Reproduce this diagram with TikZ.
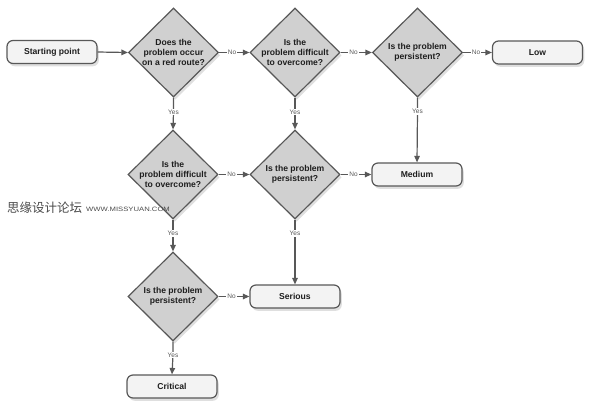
\documentclass[tikz,border=0pt]{standalone}
\usepackage{fontspec}
\setmainfont{Liberation Sans}
\newfontfamily\cjkfont{Noto Sans CJK SC}
\usetikzlibrary{shapes.geometric,arrows.meta,shadows}
\definecolor{linegray}{HTML}{585858}
\definecolor{diafill}{HTML}{D0D0D0}
\definecolor{boxfill}{HTML}{F3F3F3}
\definecolor{txt}{HTML}{1E1E1E}
\definecolor{wmgray}{HTML}{4A4A4A}
\begin{document}
\begin{tikzpicture}[x=1pt,y=-1pt,
  shad/.style={drop shadow={opacity=0.25, shadow xshift=1.8pt, shadow yshift=-2.8pt}},
  dia/.style={diamond, draw=linegray, line width=1.2pt, fill=diafill, minimum width=90pt, minimum height=89pt, inner sep=0pt, shad},
  qtext/.style={align=center, font=\fontsize{8.6}{10.2}\selectfont\bfseries, text=txt, inner sep=0pt},
  outbox/.style={rounded corners=6pt, draw=linegray, line width=1.2pt, fill=boxfill, minimum width=90pt, minimum height=23pt, inner sep=0pt, font=\fontsize{8.6}{10.2}\selectfont\bfseries, text=txt, shad},
  conn/.style={draw=linegray, line width=1.2pt, -{Triangle[length=6.5pt,width=5.5pt]}},
  lbl/.style={fill=white, inner sep=1pt, font=\fontsize{6.5}{7}\selectfont, text=linegray}]
\useasboundingbox (0,0) rectangle (600,416);

% outcome boxes
\node[outbox] (start) at (52,52) {Starting point};
\node[outbox] (low) at (537.5,52.5) {Low};
\node[outbox] (medium) at (417,174.5) {Medium};
\node[outbox] (serious) at (295,296.5) {Serious};
\node[outbox] (critical) at (172,386.5) {Critical};

% decision diamonds
\node[dia] (d1) at (173.5,52.5) {};
\node[dia] (d2) at (295,52.5) {};
\node[dia] (d3) at (417.5,52.5) {};
\node[dia] (d4) at (173,174.5) {};
\node[dia] (d5) at (295,174.5) {};
\node[dia] (d6) at (173,296.5) {};

\node[qtext] (t1) at (d1) {Does the\\problem occur\\on a red route?};
\node[qtext] (t2) at (d2) {Is the\\problem difficult\\to overcome?};
\node[qtext] (t3) at (d3) {Is the problem\\persistent?};
\node[qtext] (t4) at (d4) {Is the\\problem difficult\\to overcome?};
\node[qtext] (t5) at (d5) {Is the problem\\persistent?};
\node[qtext] (t6) at (d6) {Is the problem\\persistent?};

% connectors
\draw[conn] (start.east) -- (d1.west);
\draw[conn] (d1.east) -- ++(13,0) node[lbl]{No} -- (d2.west);
\draw[conn] (d2.east) -- ++(13,0) node[lbl]{No} -- (d3.west);
\draw[conn] (d3.east) -- ++(13,0) node[lbl]{No} -- (low.west);
\draw[conn] (d4.east) -- ++(13,0) node[lbl]{No} -- (d5.west);
\draw[conn] (d5.east) -- ++(13,0) node[lbl]{No} -- (medium.west);
\draw[conn] (d6.east) -- ++(13,0) node[lbl]{No} -- (serious.west);

\draw[conn] (d1.south) -- ++(0,14.5) node[lbl]{Yes} -- (d4.north);
\draw[conn] (d2.south) -- ++(0,14.5) node[lbl]{Yes} -- (d5.north);
\draw[conn] (d3.south) -- ++(0,14) node[lbl]{Yes} -- (medium.north);
\draw[conn] (d4.south) -- ++(0,14) node[lbl]{Yes} -- (d6.north);
\draw[conn] (d5.south) -- ++(0,14) node[lbl]{Yes} -- (serious.north);
\draw[conn] (d6.south) -- ++(0,13.5) node[lbl]{Yes} -- (critical.north);

% watermark
\node[anchor=west, inner sep=0pt, text=wmgray, font=\cjkfont\fontsize{12.5}{12.5}\selectfont] (wm1) at (7,208) {思缘设计论坛};
\node[anchor=west, inner sep=0pt, text=wmgray, font=\fontsize{6.3}{7}\selectfont] (wm2) at (86,209) {\scalebox{1.22}[1]{WWW.MISSYUAN.COM}};
\end{tikzpicture}
\end{document}
